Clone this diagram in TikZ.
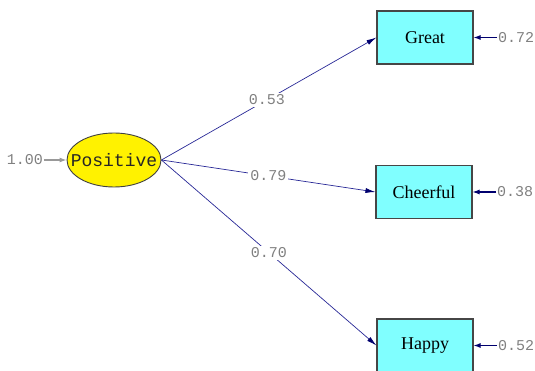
\documentclass[tikz,border=0pt]{standalone}
\usepackage{fontspec}
\setmainfont{Liberation Serif}
\newfontfamily\monofnt{Liberation Mono}
\usetikzlibrary{arrows.meta,shapes.geometric}
\definecolor{boxfill}{RGB}{128,255,255}
\definecolor{boxdraw}{RGB}{70,70,70}
\definecolor{pathcol}{RGB}{40,40,150}
\definecolor{tipcol}{RGB}{0,0,110}
\definecolor{numcol}{RGB}{128,128,128}
\tikzset{
  obsbox/.style={draw=boxdraw, line width=1.1pt, fill=boxfill, minimum width=96pt, minimum height=53pt, inner sep=0pt, font=\fontsize{18}{20}\selectfont},
  latent/.style={ellipse, draw=black!75, line width=0.9pt, fill=yellow, minimum width=94pt, minimum height=54pt, inner sep=0pt},
  latenttext/.style={inner sep=0pt, font=\monofnt\fontsize{18}{20}\selectfont, text=black!85},
  numlbl/.style={text=numcol, font=\monofnt\fontsize{15}{16}\selectfont, inner sep=1pt},
  pathlbl/.style={numlbl, fill=white, inner sep=2pt},
  pathline/.style={draw=pathcol, line width=0.7pt, -{Latex[length=10pt,width=5pt,color=tipcol]}},
  errline/.style={draw=tipcol, line width=1.1pt, -{Latex[length=7pt,width=5pt]}},
  varline/.style={draw=numcol!80, line width=1.2pt, -{Latex[length=7pt,width=5pt]}}
}
\begin{document}
\begin{tikzpicture}[x=1pt,y=-1pt]
\useasboundingbox (0,0) rectangle (535,371);
\node[latent] (pos) at (114,160) {};
\node[latenttext] (postext) at (pos.center) {Positive};
\node[obsbox] (great) at (425,37.5) {Great};
\node[obsbox] (cheer) at (424,192) {Cheerful};
\node[obsbox] (happy) at (425,345.5) {Happy};
\node[numlbl, anchor=east] (v1) at (44,160) {1.00};
\node[numlbl, anchor=west] (e1) at (497,37.5) {0.72};
\node[numlbl, anchor=west] (e2) at (496,192) {0.38};
\node[numlbl, anchor=west] (e3) at (497,345.5) {0.52};
\draw[varline] (v1.east) -- (pos.west);
\draw[errline] (e1.west) -- (great.east);
\draw[errline] (e2.west) -- (cheer.east);
\draw[errline] (e3.west) -- (happy.east);
\draw[pathline] (pos.east) -- node[pathlbl, pos=0.49] (l1) {0.53} (great.west);
\draw[pathline] (pos.east) -- node[pathlbl, pos=0.5] (l2) {0.79} (cheer.west);
\draw[pathline] (pos.east) -- node[pathlbl, pos=0.5] (l3) {0.70} (happy.west);
\end{tikzpicture}
\end{document}
